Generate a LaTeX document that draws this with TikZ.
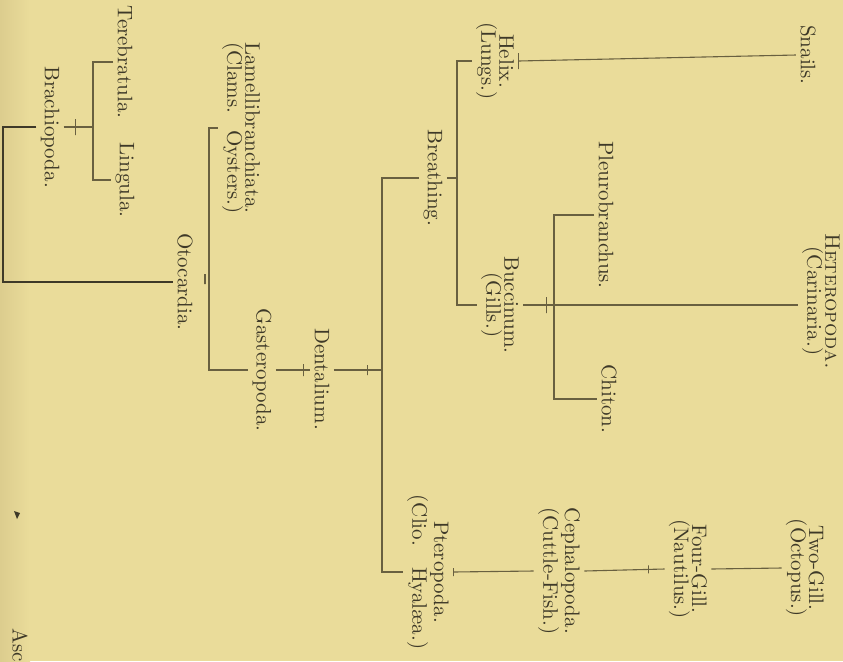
\documentclass[tikz,border=0pt]{standalone}
\definecolor{paper}{RGB}{234,220,154}
\definecolor{paperedge}{RGB}{220,205,142}
\definecolor{ink}{RGB}{62,57,40}
\definecolor{rulecol}{RGB}{105,96,64}
\begin{document}
\begin{tikzpicture}[x=0.5pt, y=-0.5pt,
		lbl/.style={rotate=-90, inner sep=2pt, text=ink, align=center, font=\fontsize{10.5}{9}\selectfont},
		branch/.style={draw=rulecol, line width=0.55pt},
		nick/.style={draw=rulecol, line width=0.55pt, inner sep=0pt, minimum width=0pt, minimum height=#1},
		nick/.default=5pt]

		% page
		\useasboundingbox (0,0) rectangle (843,661);
		\fill[paper] (0,0) rectangle (843,661);
		\shade[left color=paperedge, right color=paper] (0,0) rectangle (30,661);
		\clip (0,0) rectangle (843,661);

		% names
		\node[lbl] (tere) at (125,62) {Terebratula.};
		\node[lbl] (ling) at (125,180) {Lingula.};
		\node[lbl] (brach) at (50,127) {Brachiopoda.};
		\node[lbl] (otoc) at (185,282) {Otocardia.};
		\node[lbl] (lamel) at (241,128) {Lamellibranchiata.\\(Clams.\hspace{0.8em}Oysters.)};
		\node[lbl] (gast) at (262,370) {Gasteropoda.};
		\node[lbl] (dent) at (322,379) {Dentalium.};
		\node[lbl] (breath) at (433,178) {Breathing.};
		\node[lbl] (helix) at (495,61) {Helix.\\(Lungs.)};
		\node[lbl] (snails) at (808,55) {Snails.};
		\node[lbl] (bucc) at (500,305) {Buccinum.\\(Gills.)};
		\node[lbl] (pleuro) at (606,215) {Pleurobranchus.};
		\node[lbl] (chiton) at (609,399) {Chiton.};
		\node[lbl] (hetero) at (821,301) {\textsc{Heteropoda.}\\(Carinaria.)};
		\node[lbl] (ptero) at (428,572) {Pteropoda.\\(Clio.\hspace{1em}Hyal\ae a.)};
		\node[lbl] (ceph) at (559,571) {Cephalopoda.\\(Cuttle-Fish.)};
		\node[lbl] (four) at (688,569) {Four-Gill.\\(Nautilus.)};
		\node[lbl] (two) at (805,568) {Two-Gill.\\(Octopus.)};
		\node[lbl, anchor=west] (asc) at (20,624) {Asc};

		% root
		\coordinate (r0) at (3,200);
		\draw[branch, draw=ink, line width=0.8pt] (brach.south) -| (r0) |- (otoc.south);

		% brachiopods
		\coordinate (b1) at (93,127);
		\draw[branch] (tere.south) -| (b1) |- (ling.south);
		\draw[branch] (brach.north) -- node[nick=8pt, pos=0.4] {} (b1);

		% otocardia
		\coordinate (b2) at (209,282);
		\draw[branch] (lamel.south) -| (b2) |- (gast.south);
		\path (otoc.north) ++(8,-3) node[nick=5pt] {};

		\coordinate (b3) at (382,370);
		\draw[branch] (gast.north) -- node[nick=6pt, pos=0.8] {} (gast.north -| dent.south);
		\draw[branch] (gast.north -| dent.north) -- node[nick=5pt, pos=0.7] {} (b3);
		\draw[branch] (breath.south) -| (b3) |- (ptero.south);

		% breathing
		\coordinate (b4) at (457,180);
		\draw[branch] (helix.south) -| (b4) |- (bucc.south);
		\draw[branch] (breath.north) -- (breath.north -| b4);
		\draw[branch] (helix.north) -- node[nick=8pt, pos=0] {} (snails.south);

		\coordinate (b5) at (554,305);
		\draw[branch] (bucc.north) -- node[nick=8pt, pos=0.75] {} (b5);
		\draw[branch] (pleuro.south) -| (b5) |- (chiton.south);
		\draw[branch] (b5) -- (b5 -| hetero.south);

		% cephalopods
		\draw[branch] (ptero.north) -- node[nick=4pt, pos=0] {} (ceph.south);
		\draw[branch] (ceph.north) -- node[nick=4pt, pos=0.8] {} (four.south);
		\draw[branch] (four.north) -- (two.south);

		\fill[ink] (14,511) -- (20,513) -- (17,519) -- cycle;
	\end{tikzpicture}
\end{document}
